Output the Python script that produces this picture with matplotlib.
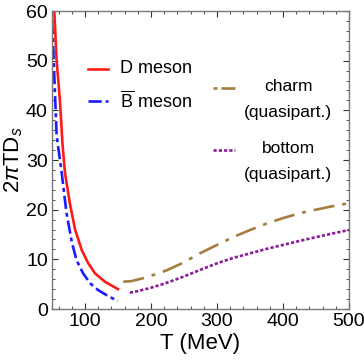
import numpy as np
import matplotlib.pyplot as plt
from matplotlib.ticker import MultipleLocator
from matplotlib.lines import Line2D

plt.rcParams['font.family'] = ['Liberation Sans', 'DejaVu Sans']
plt.rcParams['mathtext.fontset'] = 'custom'
plt.rcParams['mathtext.rm'] = 'Liberation Sans'
plt.rcParams['mathtext.it'] = 'Liberation Sans:italic'

# hadronic phase (T < Tc)
T_D = [53.5, 57, 62, 66, 69.7, 77, 85, 95, 105, 115, 130, 150]
D_meson = [60, 50, 42, 33, 27.4, 21.3, 16.0, 11.9, 9.2, 7.2, 5.5, 4.0]
T_B = [50, 52, 57, 64.7, 72, 80, 87, 97, 107.6, 120, 135, 150]
B_meson = [58, 52, 35, 27.4, 19.3, 13.5, 9.9, 7.2, 5.2, 3.8, 2.6, 1.6]

# quasiparticle model (T > Tc)
T_c = [158, 170, 188, 205, 224, 250, 274, 300, 325, 350, 375, 400, 426, 450, 475, 500]
charm = [5.5, 5.6, 6.2, 6.9, 7.8, 9.4, 11.2, 12.9, 14.5, 15.9, 17.2, 18.3, 19.3, 20.0, 20.7, 21.3]
T_b = [168, 180, 198, 220, 249, 275, 300, 325, 350, 375, 400, 425, 451, 475, 500]
bottom = [3.3, 3.6, 4.2, 5.1, 6.5, 7.9, 9.2, 10.3, 11.2, 12.1, 12.9, 13.7, 14.5, 15.2, 15.9]

fig = plt.figure(figsize=(3.64, 3.63), dpi=100)
ax = fig.add_axes([52/364, 1-309/363, 297/364, 298/363])

ax.plot(T_D, D_meson, color='#ff1a1a', lw=1.9)
ax.plot(T_B, B_meson, color='#1a1aff', lw=1.9, dashes=(5, 1.5, 1.5, 1.5))
ax.plot(T_c, charm, color='#a67c40', lw=1.9, dashes=(8, 3, 1.5, 3))
ax.plot(T_b, bottom, color='#8c1a99', lw=1.9, dashes=(1.2, 0.8))

ax.set_xlim(50, 500)
ax.set_ylim(0, 60)
ax.xaxis.set_major_locator(MultipleLocator(100))
ax.xaxis.set_minor_locator(MultipleLocator(20))
ax.yaxis.set_major_locator(MultipleLocator(10))
ax.yaxis.set_minor_locator(MultipleLocator(2))
ax.tick_params(which='both', direction='in', top=True, right=True,
               labeltop=False, labelright=False, color='#333333')
ax.tick_params(which='major', length=4, width=0.8, labelsize=14, pad=3)
ax.tick_params(which='minor', length=2, width=0.6)
for s in ax.spines.values():
    s.set_color('#777777')
    s.set_linewidth(1.0)

ax.set_xlabel('T (MeV)', fontsize=16, labelpad=2)
ax.set_ylabel(r'$2\pi$TD$_s$', fontsize=16, labelpad=1)

# legend samples
tr = ax.transAxes
ax.add_line(Line2D([0.122, 0.189], [0.807, 0.807], transform=tr, color='#ff1a1a', lw=1.9))
ax.text(0.23, 0.807, 'D meson', transform=tr, fontsize=13, va='center')
ax.add_line(Line2D([0.122, 0.189], [0.697, 0.697], transform=tr, color='#1a1aff', lw=1.9,
                   dashes=(5, 1.5, 1.5, 1.5)))
ax.text(0.23, 0.697, r'$\overline{\rm B}$ meson', transform=tr, fontsize=13, va='center')

ax.add_line(Line2D([0.542, 0.616], [0.742, 0.742], transform=tr, color='#a67c40', lw=1.9,
                   dashes=(1.5, 1.5, 6, 0.1)))
ax.text(0.795, 0.745, 'charm', transform=tr, fontsize=12.5, va='center', ha='center')
ax.text(0.795, 0.66, '(quasipart.)', transform=tr, fontsize=12.5, va='center', ha='center')
ax.add_line(Line2D([0.542, 0.616], [0.534, 0.534], transform=tr, color='#8c1a99', lw=1.9,
                   dashes=(1.2, 0.8)))
ax.text(0.795, 0.537, 'bottom', transform=tr, fontsize=12.5, va='center', ha='center')
ax.text(0.795, 0.453, '(quasipart.)', transform=tr, fontsize=12.5, va='center', ha='center')

fig.savefig('out.png', dpi=100)
